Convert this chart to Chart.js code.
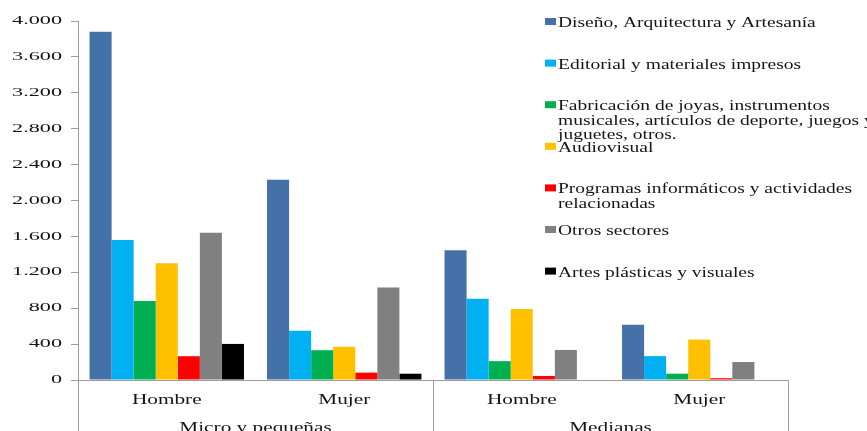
<!DOCTYPE html>
<html>
<head>
<meta charset="utf-8">
<script src="https://cdn.jsdelivr.net/npm/chart.js@4/dist/chart.umd.min.js"></script>
<style>
  html, body { margin: 0; padding: 0; background: #ffffff; overflow: hidden; }
  canvas { display: block; }
</style>
</head>
<body>
<canvas id="chart" width="867" height="431"></canvas>
<script>
// Categories on the x axis and the two company-size groups they belong to
const categories = ['Hombre', 'Mujer', 'Hombre', 'Mujer'];
const groups = ['Micro y pequeñas', 'Medianas'];

// Sector series
const seriesNames = [
  'Diseño, Arquitectura y Artesanía',
  'Editorial y materiales impresos',
  'Fabricación de joyas, instrumentos musicales, artículos de deporte, juegos y juguetes, otros.',
  'Audiovisual',
  'Programas informáticos y actividades relacionadas',
  'Otros sectores',
  'Artes plásticas y visuales'
];
const seriesColors = ['#4472a8', '#00b0f0', '#00b050', '#ffc000', '#ff0000', '#808080', '#000000'];

const diseno      = [3880, 2230, 1445, 615];
const editorial   = [1560, 548, 906, 266];
const fabricacion = [880, 332, 210, 70];
const audiovisual = [1300, 370, 790, 450];
const programas   = [265, 82, 45, 20];
const otros       = [1640, 1030, 335, 200];
const artes       = [402, 70, 0, 0];
const seriesValues = [diseno, editorial, fabricacion, audiovisual, programas, otros, artes];

// Value axis
const yMin = 0;
const yMax = 4000;
const yStep = 400;

const SERIF = '"Liberation Serif", "Times New Roman", serif';
const TEXT = '#151515';
const AXIS = '#9c9c9c';

// Wide, stretched serif lettering: horizontal scale per font size
const STRETCH = { 12: 1.85, 14: 1.52, 15: 1.3 };
function stretchOf(ctx) {
  const m = /(\d+(?:\.\d+)?)px/.exec(ctx.font);
  return m ? (STRETCH[Math.round(+m[1])] || 1) : 1;
}
const proto = CanvasRenderingContext2D.prototype;
const baseFill = proto.fillText;
const baseMeasure = proto.measureText;
proto.fillText = function (t, x, y, maxWidth) {
  const s = stretchOf(this);
  if (s === 1) {
    return maxWidth === undefined ? baseFill.call(this, t, x, y) : baseFill.call(this, t, x, y, maxWidth);
  }
  this.save();
  this.translate(x, y);
  this.scale(s, 1);
  baseFill.call(this, t, 0, 0);
  this.restore();
};
proto.measureText = function (t) {
  const m = baseMeasure.call(this, t);
  const s = stretchOf(this);
  if (s === 1) return m;
  return {
    width: m.width * s,
    actualBoundingBoxAscent: m.actualBoundingBoxAscent,
    actualBoundingBoxDescent: m.actualBoundingBoxDescent,
    actualBoundingBoxLeft: m.actualBoundingBoxLeft * s,
    actualBoundingBoxRight: m.actualBoundingBoxRight * s,
    fontBoundingBoxAscent: m.fontBoundingBoxAscent,
    fontBoundingBoxDescent: m.fontBoundingBoxDescent
  };
};

function thousands(v) {
  return String(v).replace(/\B(?=(\d{3})+(?!\d))/g, '.');
}

// Group separators and group captions below the category labels
const groupAxis = {
  id: 'groupAxis',
  afterDraw(chart) {
    const { ctx, chartArea, scales } = chart;
    const x = scales.x;
    const per = categories.length / groups.length;
    const edges = [chartArea.left];
    for (let g = 1; g < groups.length; g++) {
      edges.push((x.getPixelForValue(g * per - 1) + x.getPixelForValue(g * per)) / 2);
    }
    edges.push(chartArea.right);
    ctx.save();
    ctx.strokeStyle = AXIS;
    ctx.lineWidth = 1;
    edges.forEach(e => {
      const px = Math.round(e) + 0.5;
      ctx.beginPath();
      ctx.moveTo(px, chartArea.bottom);
      ctx.lineTo(px, chart.height);
      ctx.stroke();
    });
    ctx.font = '14px ' + SERIF;
    ctx.fillStyle = TEXT;
    ctx.textAlign = 'center';
    ctx.textBaseline = 'alphabetic';
    groups.forEach((g, i) => {
      ctx.fillText(g, (edges[i] + edges[i + 1]) / 2, 432);
    });
    ctx.restore();
  }
};

// Legend in fixed slots on the right, wrapping long names
const sideLegend = {
  id: 'sideLegend',
  afterDraw(chart) {
    const { ctx } = chart;
    const left = 545, textX = 558, maxW = 322;
    ctx.save();
    ctx.font = '15px ' + SERIF;
    ctx.textAlign = 'left';
    ctx.textBaseline = 'alphabetic';
    chart.data.datasets.forEach((ds, i) => {
      const base = 27 + 41.6 * i;
      ctx.fillStyle = ds.backgroundColor;
      ctx.fillRect(left, base - 9, 11, 7);
      const words = ds.label.split(' ');
      const lines = [];
      let line = '';
      words.forEach(w => {
        const test = line ? line + ' ' + w : w;
        if (line && ctx.measureText(test).width > maxW) {
          lines.push(line);
          line = w;
        } else {
          line = test;
        }
      });
      if (line) lines.push(line);
      ctx.fillStyle = TEXT;
      lines.forEach((l, k) => ctx.fillText(l, textX, base + k * 14.6));
    });
    ctx.restore();
  }
};

new Chart(document.getElementById('chart'), {
  type: 'bar',
  data: {
    labels: categories,
    datasets: seriesNames.map((name, i) => ({
      label: name,
      data: seriesValues[i],
      backgroundColor: seriesColors[i],
      borderWidth: 0,
      categoryPercentage: 0.87,
      barPercentage: 1.0
    }))
  },
  options: {
    responsive: false,
    animation: false,
    devicePixelRatio: 1,
    layout: { padding: { left: 0, right: 79, top: 21, bottom: 0 } },
    plugins: {
      legend: { display: false },
      tooltip: { enabled: false }
    },
    scales: {
      x: {
        grid: { display: false },
        border: { display: true, color: AXIS, width: 1 },
        ticks: {
          font: { family: SERIF, size: 14 },
          color: TEXT,
          padding: 4,
          maxRotation: 0,
          autoSkip: false
        },
        afterFit(scale) { scale.height = 51; }
      },
      y: {
        min: yMin,
        max: yMax,
        grid: { drawOnChartArea: false, drawTicks: true, tickLength: 7, color: AXIS },
        border: { display: true, color: AXIS, width: 1 },
        ticks: {
          stepSize: yStep,
          font: { family: SERIF, size: 12 },
          color: TEXT,
          padding: 9,
          callback: v => thousands(v)
        },
        afterFit(scale) { scale.width = 78; }
      }
    }
  },
  plugins: [groupAxis, sideLegend]
});
</script>
</body>
</html>
